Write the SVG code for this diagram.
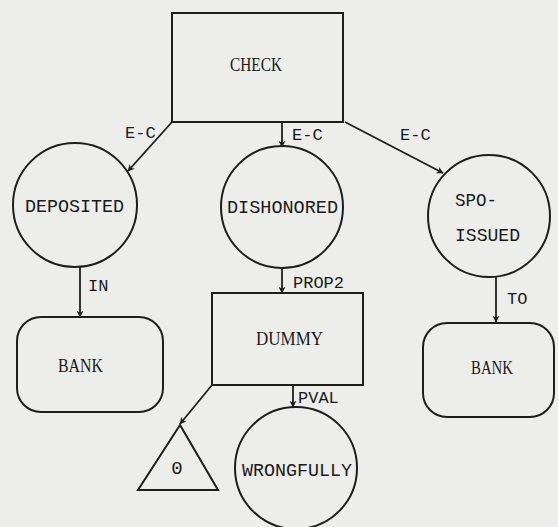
<svg xmlns="http://www.w3.org/2000/svg" width="558" height="527" viewBox="0 0 558 527">
<defs>
<marker id="ah" viewBox="0 0 10 10" refX="9" refY="5" markerWidth="7" markerHeight="7" orient="auto" markerUnits="userSpaceOnUse">
<path d="M0,0 L10,5 L0,10 L3,5 z" fill="#1e1e1e"/>
</marker>
<style>
.shape{fill:none;stroke:#1e1e1e;stroke-width:2}
.edge{fill:none;stroke:#1e1e1e;stroke-width:1.8;marker-end:url(#ah)}
.mono{font-family:"Liberation Mono","DejaVu Sans Mono",monospace;font-size:19px;fill:#1a1a1a}
.serif{font-family:"Liberation Serif","Times New Roman",serif;font-size:19px;fill:#1a1a1a}
.lbl{font-family:"Liberation Mono","DejaVu Sans Mono",monospace;font-size:17px;fill:#1a1a1a}
</style>
</defs>
<rect width="558" height="527" fill="#ededeb"/>
<g id="connectors">
<line class="edge" x1="172" y1="122" x2="128" y2="171"/>
<line class="edge" x1="282" y1="122" x2="282" y2="147"/>
<line class="edge" x1="345" y1="122" x2="443" y2="173"/>
<line class="edge" x1="80" y1="267" x2="80" y2="317"/>
<line class="edge" x1="282" y1="268" x2="282" y2="293"/>
<line class="edge" x1="496" y1="277" x2="496" y2="322"/>
<line class="edge" x1="212" y1="385" x2="180" y2="424"/>
<line class="edge" x1="293" y1="385" x2="293" y2="407"/>
<text class="lbl" x="125" y="138">E-C</text>
<text class="lbl" x="292" y="140">E-C</text>
<text class="lbl" x="400" y="140">E-C</text>
<text class="lbl" x="88" y="291">IN</text>
<text class="lbl" x="293" y="288">PROP2</text>
<text class="lbl" x="507" y="304">TO</text>
<text class="lbl" x="298" y="403">PVAL</text>
</g>
<g id="check">
<rect class="shape" x="172" y="13" width="171" height="109"/>
<text class="serif" x="230" y="71" textLength="52" lengthAdjust="spacingAndGlyphs">CHECK</text>
</g>
<g id="deposited">
<circle class="shape" cx="75" cy="205" r="62"/>
<text class="mono" x="25" y="212" textLength="99" lengthAdjust="spacingAndGlyphs">DEPOSITED</text>
</g>
<g id="dishonored">
<circle class="shape" cx="282" cy="207" r="61"/>
<text class="mono" x="227" y="213" textLength="111" lengthAdjust="spacingAndGlyphs">DISHONORED</text>
</g>
<g id="spo-issued">
<circle class="shape" cx="489" cy="216" r="61"/>
<text class="mono" x="455" y="206" textLength="42" lengthAdjust="spacingAndGlyphs">SPO-</text>
<text class="mono" x="455" y="241" textLength="65" lengthAdjust="spacingAndGlyphs">ISSUED</text>
</g>
<g id="bank-left">
<rect class="shape" x="17" y="317" width="146" height="95" rx="24"/>
<text class="serif" x="58" y="372" textLength="45" lengthAdjust="spacingAndGlyphs">BANK</text>
</g>
<g id="dummy">
<rect class="shape" x="212" y="293" width="151" height="92"/>
<text class="serif" x="256" y="345" textLength="67" lengthAdjust="spacingAndGlyphs">DUMMY</text>
</g>
<g id="bank-right">
<rect class="shape" x="423" y="323" width="131" height="94" rx="24"/>
<text class="serif" x="471" y="374" textLength="42" lengthAdjust="spacingAndGlyphs">BANK</text>
</g>
<g id="zero">
<polygon class="shape" points="180,425 138,490 218,490"/>
<text class="mono" x="177" y="474" text-anchor="middle">0</text>
</g>
<g id="wrongfully">
<circle class="shape" cx="296" cy="468" r="61"/>
<text class="mono" x="242" y="476" textLength="110" lengthAdjust="spacingAndGlyphs">WRONGFULLY</text>
</g>
</svg>
